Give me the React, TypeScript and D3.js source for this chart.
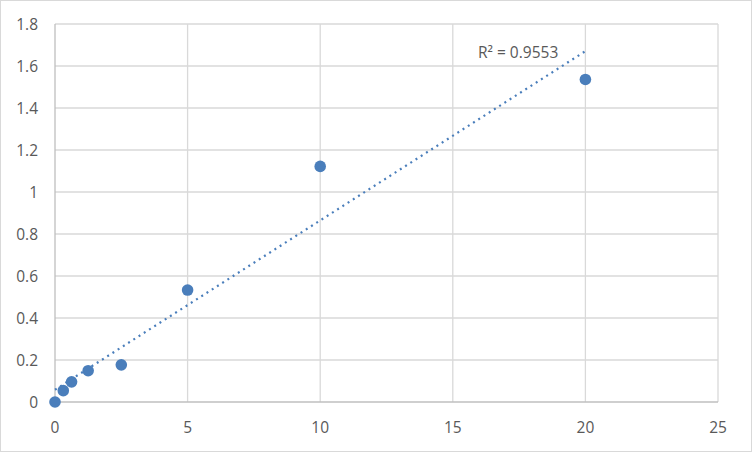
import React from "react";
import * as d3 from "d3";

const concentrations = [0, 0.3125, 0.625, 1.25, 2.5, 5, 10, 20];
const absorbance = [0, 0.054, 0.096, 0.149, 0.177, 0.533, 1.122, 1.536];
const xTicks = [0, 5, 10, 15, 20, 25];
const yTicks = [0, 0.2, 0.4, 0.6, 0.8, 1, 1.2, 1.4, 1.6, 1.8];
const rSquaredLabel = "R² = 0.9553";

const W = 752;
const H = 452;
const margin = { top: 24, right: 34, bottom: 50, left: 55 };
const font = "'Open Sans', 'Liberation Sans', sans-serif";

export default function App() {
  const x = d3.scaleLinear().domain([0, 25]).range([margin.left, W - margin.right]);
  const y = d3.scaleLinear().domain([0, 1.8]).range([H - margin.bottom, margin.top]);

  // least-squares trendline
  const mx = d3.mean(concentrations)!;
  const my = d3.mean(absorbance)!;
  let sxy = 0;
  let sxx = 0;
  concentrations.forEach((c, i) => {
    sxy += (c - mx) * (absorbance[i] - my);
    sxx += (c - mx) * (c - mx);
  });
  const slope = sxy / sxx;
  const intercept = my - slope * mx;
  const xMax = d3.max(concentrations)!;
  const trend = d3.line<number>().x(d => x(d)).y(d => y(intercept + slope * d))([0, xMax]);

  return (
    <svg width={W} height={H} style={{ display: "block", position: "absolute", left: 0, top: 0 }}>
      <rect x={0.5} y={0.5} width={W - 1} height={H - 1} fill="#fff" stroke="#d9d9d9" />
      {yTicks.slice(1).map(t => (
        <line key={"gy" + t} x1={x(0)} x2={x(25)} y1={y(t)} y2={y(t)} stroke="#d9d9d9" strokeWidth={1.3} />
      ))}
      {xTicks.slice(1).map(t => (
        <line key={"gx" + t} x1={x(t)} x2={x(t)} y1={y(0)} y2={y(1.8)} stroke="#d9d9d9" strokeWidth={1.3} />
      ))}
      <line x1={x(0)} x2={x(0)} y1={y(0)} y2={y(1.8)} stroke="#bfbfbf" strokeWidth={1.3} />
      <line x1={x(0)} x2={x(25)} y1={y(0)} y2={y(0)} stroke="#bfbfbf" strokeWidth={1.3} />
      {yTicks.map(t => (
        <text key={"ty" + t} x={38} y={y(t) + 6} textAnchor="end" fontFamily={font} fontSize={15.5} fill="#595959">
          {String(t)}
        </text>
      ))}
      {xTicks.map(t => (
        <text key={"tx" + t} x={x(t)} y={433} textAnchor="middle" fontFamily={font} fontSize={15.5} fill="#595959">
          {String(t)}
        </text>
      ))}
      <path d={trend ?? ""} fill="none" stroke="#4a7ebb" strokeWidth={2.2} strokeDasharray="2 4.2" />
      {concentrations.map((c, i) => (
        <circle key={"p" + i} cx={x(c)} cy={y(absorbance[i])} r={5.8} fill="#4a7ebb" />
      ))}
      <text x={478} y={58} fontFamily={font} fontSize={15.5} fill="#595959">
        {rSquaredLabel}
      </text>
    </svg>
  );
}
